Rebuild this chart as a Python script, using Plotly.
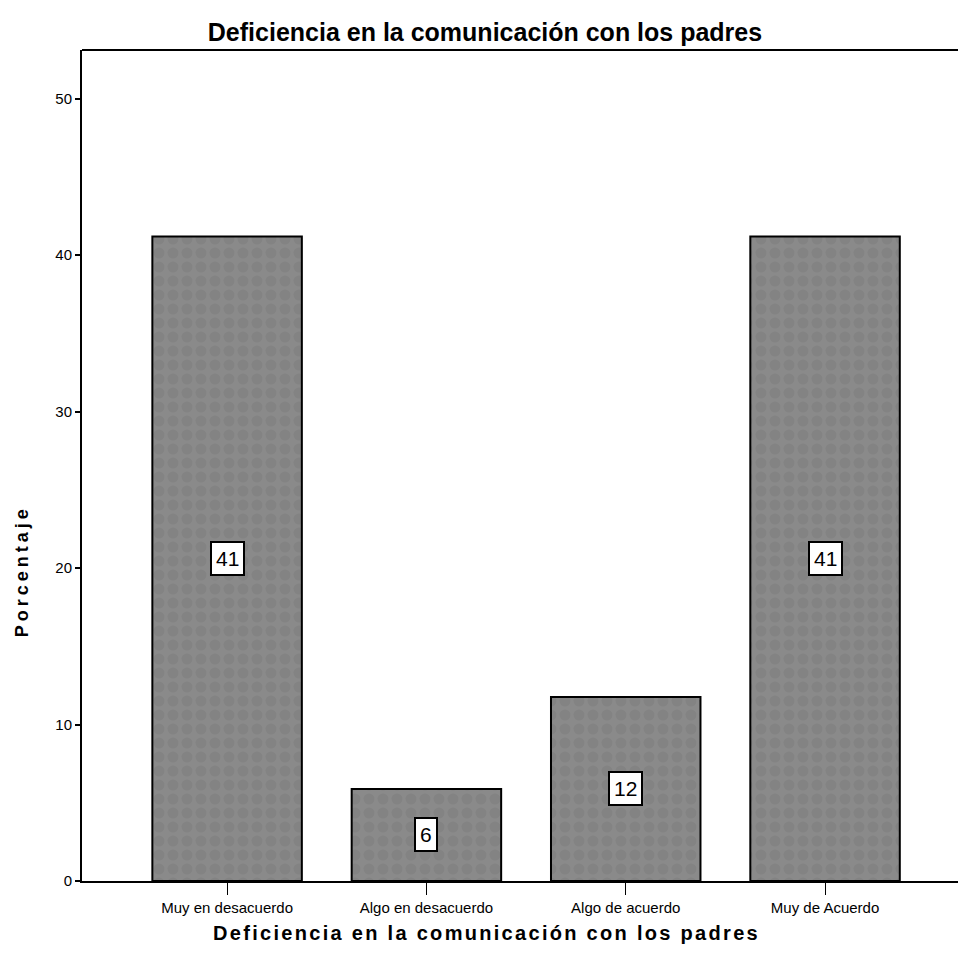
import plotly.graph_objects as go

categories = ["Muy en desacuerdo", "Algo en desacuerdo", "Algo de acuerdo", "Muy de Acuerdo"]
percentages = [41.18, 5.88, 11.76, 41.18]
bar_labels = ["41", "6", "12", "41"]
y_ticks = [0, 10, 20, 30, 40, 50]

title_text = "Deficiencia en la comunicación con los padres"
x_title = "Deficiencia en la comunicación con los padres"
y_title = "Porcentaje"

narrow = "Liberation Sans Narrow, Arial Narrow, Liberation Sans, Arial, sans-serif"
sans = "Liberation Sans, Arial, sans-serif"

fig = go.Figure()
fig.add_trace(go.Bar(
    x=list(range(len(categories))),
    y=percentages,
    width=0.75,
    marker=dict(color="#8a8a8a", line=dict(color="black", width=2),
                pattern=dict(shape=".", fgcolor="#7c7c7c", size=14, solidity=0.5)),
    hoverinfo="skip",
))

for i, (v, lab) in enumerate(zip(percentages, bar_labels)):
    fig.add_annotation(x=i, y=v / 2, text=lab, showarrow=False,
                       font=dict(family=narrow, size=21, color="black"),
                       bgcolor="white", bordercolor="black", borderwidth=2, borderpad=4)

fig.add_annotation(xref="paper", yref="paper", x=(486 - 82) / 876, y=-0.047,
                   text='<span style="letter-spacing:2.3px">' + x_title + '</span>',
                   showarrow=False, xanchor="center", yanchor="top",
                   font=dict(family=sans, size=20, color="black", weight="bold"))
fig.add_annotation(xref="paper", yref="paper", x=-0.082, y=(881 - 571) / 831,
                   text='<span style="letter-spacing:4px">' + y_title + '</span>',
                   showarrow=False, textangle=-90,
                   font=dict(family=sans, size=18, color="black", weight="bold"))

fig.add_shape(type="line", xref="paper", yref="paper", x0=0, x1=1, y0=1, y1=1,
              line=dict(color="black", width=2))

fig.update_layout(
    width=958, height=972,
    margin=dict(l=82, r=0, t=50, b=91),
    paper_bgcolor="white", plot_bgcolor="white",
    showlegend=False,
    title=dict(text=title_text, x=485 / 958, xanchor="center", xref="container",
               y=1 - 32 / 972, yanchor="middle",
               font=dict(family=narrow, size=25, color="black", weight="bold")),
    xaxis=dict(range=[-0.728, 3.667], tickmode="array",
               tickvals=list(range(len(categories))), ticktext=categories,
               ticks="outside", ticklen=12, tickcolor="black", tickwidth=1,
               showline=True, linecolor="black", linewidth=2, showgrid=False,
               zeroline=False,
               tickfont=dict(family=narrow, size=15, color="black")),
    yaxis=dict(range=[0, 53.1], tickmode="array", tickvals=y_ticks,
               ticks="outside", ticklen=5, tickcolor="black", tickwidth=2,
               showline=True, linecolor="black", linewidth=2, showgrid=False,
               zeroline=False,
               tickfont=dict(family=narrow, size=15, color="black")),
)

fig.write_html("out.html", config={"displayModeBar": False},
               post_script="document.body.style.margin='0';")
